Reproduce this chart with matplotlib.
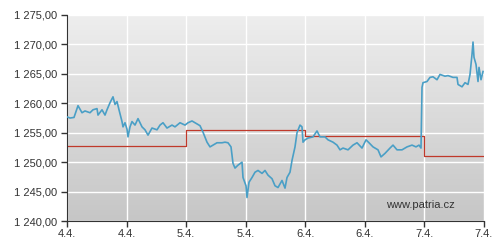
import numpy as np
import matplotlib.pyplot as plt
from matplotlib.colors import LinearSegmentedColormap

plt.rcParams['font.family'] = ['Liberation Sans', 'DejaVu Sans']

# intraday price, x in half-day units (tick positions 0..7)
px = [67, 70, 74, 78, 82, 85, 90, 93, 97, 98, 102, 105, 107, 110, 113, 115, 117,
      119, 122, 123, 125, 127, 128, 130, 132, 135, 138, 142, 145, 148, 152, 157,
      160, 163, 167, 172, 175, 180, 185, 188, 192, 195, 200, 203, 207, 210, 213,
      217, 222, 225, 228, 231, 233, 235, 238, 242, 243, 246, 247, 249, 252, 255,
      258, 262, 265, 268, 272, 275, 278, 282, 285, 287, 290, 292, 295, 297, 300,
      302, 303, 305, 308, 313, 317, 320, 325, 328, 333, 337, 340, 343, 348, 353,
      357, 362, 366, 369, 373, 378, 381, 385, 390, 393, 397, 402, 407, 412, 416,
      419, 421, 422, 423, 427, 430, 433, 437, 440, 445, 448, 453, 457, 458, 462,
      465, 468, 470, 472, 473, 474, 476, 478, 479, 481, 483]
price = [1257.7, 1257.5, 1257.6, 1259.6, 1258.4, 1258.7, 1258.4, 1258.9, 1259.1,
         1258.0, 1258.9, 1258.0, 1258.9, 1260.1, 1261.1, 1259.8, 1260.3, 1258.9,
         1256.9, 1256.0, 1256.7, 1255.6, 1254.3, 1256.0, 1256.9, 1256.3, 1257.4,
         1256.0, 1255.5, 1254.6, 1255.8, 1255.5, 1256.3, 1256.7, 1255.8, 1256.3,
         1256.0, 1256.7, 1256.3, 1256.7, 1257.0, 1256.7, 1256.2, 1255.1, 1253.4,
         1252.6, 1252.9, 1253.3, 1253.3, 1253.4, 1253.3, 1252.6, 1249.8, 1249.0,
         1249.5, 1250.0, 1247.4, 1246.0, 1244.0, 1246.6, 1247.4, 1248.3, 1248.6,
         1248.1, 1248.6, 1247.8, 1247.2, 1246.0, 1245.7, 1246.9, 1245.6, 1247.4,
         1248.3, 1250.3, 1252.6, 1255.0, 1256.3, 1256.0, 1253.4, 1253.8, 1254.1,
         1254.3, 1255.3, 1254.3, 1254.3, 1253.8, 1253.4, 1252.9, 1252.1, 1252.4,
         1252.1, 1252.9, 1253.3, 1252.4, 1253.8, 1253.3, 1252.6, 1252.1, 1250.9,
         1251.5, 1252.4, 1252.9, 1252.1, 1252.1, 1252.6, 1252.9, 1252.6, 1252.9,
         1252.4, 1262.7, 1263.5, 1263.7, 1264.4, 1264.5, 1264.0, 1264.9, 1264.6,
         1264.7, 1264.4, 1264.4, 1263.2, 1262.8, 1263.5, 1263.2, 1264.9, 1268.3,
         1270.4, 1267.8, 1266.6, 1263.7, 1266.1, 1264.0, 1265.4]
x_vals = [(p - 67) / 59.57 for p in px]

# previous close per day
close_x = [0, 2, 4, 6, 7]
close_y = [1252.7, 1255.4, 1254.4, 1251.0, 1251.0]

tick_labels = ['4.4.', '4.4.', '5.4.', '5.4.', '6.4.', '6.4.', '7.4.', '7.4.']
y_ticks = [1240, 1245, 1250, 1255, 1260, 1265, 1270, 1275]

fig = plt.figure(figsize=(5, 2.49), dpi=100)
ax = fig.add_axes([0.134, 0.112, 0.834, 0.828])

cmap = LinearSegmentedColormap.from_list('bg', ['#c6c6c6', '#eeeeee'])
grad = np.linspace(0, 1, 256).reshape(-1, 1)
ax.imshow(grad, cmap=cmap, origin='lower', aspect='auto',
          extent=[0, 7, 1240, 1275], zorder=0)

ax.set_xlim(0, 7)
ax.set_ylim(1240, 1275)
ax.set_xticks(range(8))
ax.set_xticklabels(tick_labels)
ax.set_yticks(y_ticks)
ax.set_yticklabels(['1 %s,00' % format(v - 1000, 'd') for v in y_ticks])
ax.grid(True, color='white', linewidth=1.0, zorder=1)

ax.step(close_x, close_y, where='post', color='#c0392b', linewidth=0.9, zorder=2)
ax.plot(x_vals, price, color='#4a9fc6', linewidth=1.2, zorder=3)

for s in ['top', 'right']:
    ax.spines[s].set_visible(False)
for s in ['left', 'bottom']:
    ax.spines[s].set_color('#333333')
ax.tick_params(axis='both', labelsize=8, colors='#333333', length=4, width=1)
ax.tick_params(axis='x', pad=2)
ax.tick_params(axis='y', pad=3)

ax.text(0.93, 0.08, 'www.patria.cz', transform=ax.transAxes, ha='right',
        va='center', fontsize=8, color='#333333', zorder=4)

fig.savefig('out.png', dpi=100)
